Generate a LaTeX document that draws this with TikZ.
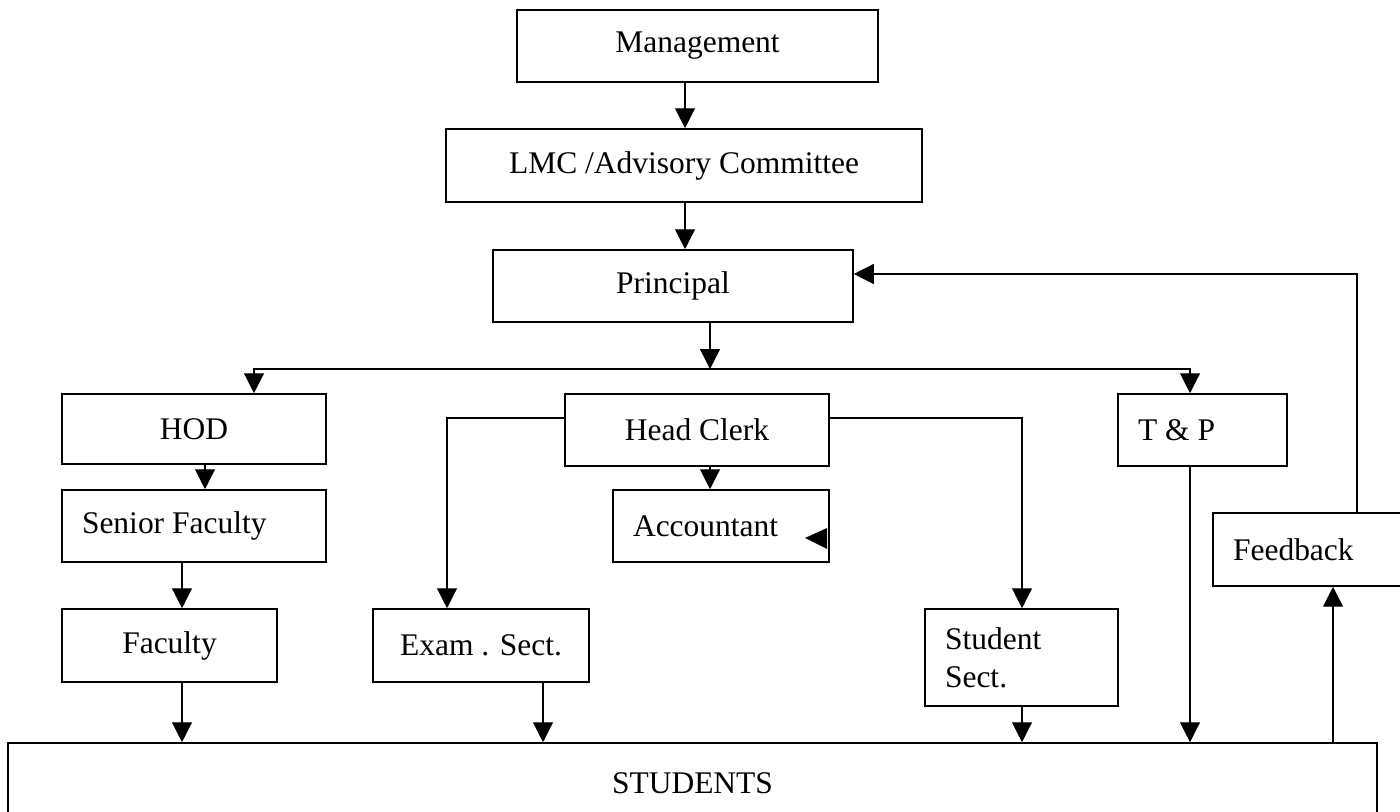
\documentclass[tikz,border=0pt]{standalone}
\usepackage{fontspec}
\setmainfont{Liberation Serif}
\usetikzlibrary{arrows.meta}
\newcommand{\pxu}{0.381pt}

\begin{document}
\begin{tikzpicture}
[x=\pxu, y=-\pxu, >={Triangle[length=7.6pt, width=7.6pt]}, line width=0.5pt,
  font=\fontsize{12}{14.5}\selectfont,
  box/.style 2 args = { draw, line width=0.6pt, minimum width=#1*\pxu, minimum height=#2*\pxu, inner sep=0pt },
  lbox/.style 2 args = { draw, line width=0.6pt, minimum width=#1*\pxu, minimum height=#2*\pxu,
                         inner xsep=20*\pxu, inner ysep=0pt, text width=(#1-40)*\pxu, align=flush left }
]

% Page:
\useasboundingbox (0,0) rectangle (1400,812);
\clip (0,0) rectangle (1400,812);

% Top of the chain:
\node[box={361}{72}] (mgmt)  at (697.5,46)  {Management};
\node[box={476}{73}] (lmc)   at (684,165.5) {LMC /Advisory Committee};
\node[box={360}{72}] (princ) at (673,286)   {Principal};

% Second row:
\node[box={264}{70}]  (hod) at (194,429)    {HOD};
\node[box={264}{72}]  (hc)  at (697,430)    {Head Clerk};
\node[lbox={169}{72}] (tp)  at (1202.5,430) {T \& P};

% Lower boxes:
\node[lbox={264}{72}] (senior) at (194,526)      {Senior Faculty};
\node[lbox={216}{72}] (acct)   at (721,526)      {Accountant};
\node[box={215}{73}]  (fac)    at (169.5,645.5)  {Faculty};
\node[box={216}{73}]  (exam)   at (481,645.5)    {Exam . Sect.};
\node[lbox={193}{97}] (ssect)  at (1021.5,657.5) {Student\\Sect.};
\node[lbox={207}{73}] (fb)     at (1316.5,549.5) {Feedback};

% Students:
\node[box={1369}{80}] (stud) at (692.5,783) {STUDENTS};

% Top arrows:
\draw[->] (mgmt.south -| 685,0) -- (lmc.north -| 685,0);
\draw[->] (lmc.south -| 685,0)  -- (princ.north -| 685,0);

% Principal to the bus:
\coordinate (bus) at (710,369);
\draw[->] (princ.south -| bus) -- (bus);
\draw[<->] (hod.north -| 254,0) |- (bus) -| (tp.north -| 1190,0);

% HOD branch:
\draw[->] (hod.south -| 205,0)    -- (senior.north -| 205,0);
\draw[->] (senior.south -| 182,0) -- (fac.north -| 182,0);
\draw[->] (fac.south -| 182,0)    -- (stud.north -| 182,0);

% Head Clerk branch:
\draw[->] (hc.south -| 710,0) -- (acct.north -| 710,0);
\draw[->] (hc.west |- 0,418) -| (exam.north -| 447,0);
\draw[->] (hc.east |- 0,418) -| (ssect.north -| 1022,0);
\draw[->] (exam.south -| 543,0)   -- (stud.north -| 543,0);
\draw[->] (ssect.south -| 1022,0) -- (stud.north -| 1022,0);

% stray tip inside Accountant
\fill (805,538) -- (827,528) -- (827,549) -- cycle;

% T & P and feedback loop:
\draw[->] (tp.south -| 1190,0)   -- (stud.north -| 1190,0);
\draw[->] (stud.north -| 1333,0) -- (fb.south -| 1333,0);
\draw[->] (fb.north -| 1357,0) |- (princ.east |- 0,274);
\end{tikzpicture}
\end{document}
